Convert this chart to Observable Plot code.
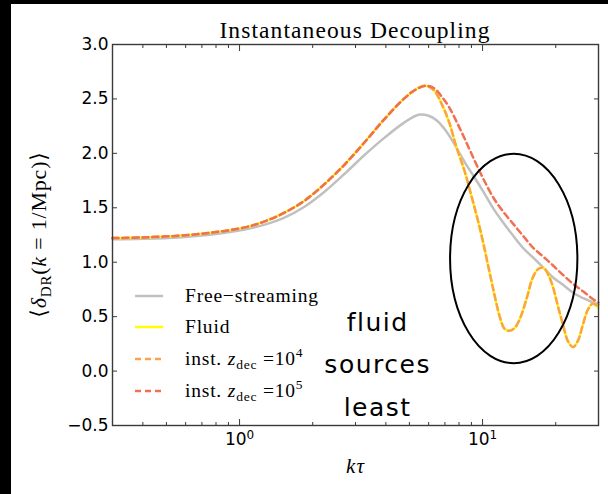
<!DOCTYPE html>
<html><head><meta charset="utf-8">
<script src="https://cdn.jsdelivr.net/npm/d3@7"></script>
<script src="https://cdn.jsdelivr.net/npm/@observablehq/plot@0.6"></script>
<style>
html,body{margin:0;padding:0;background:#000;width:608px;height:494px;overflow:hidden;}
#chart{position:absolute;left:11px;top:4px;width:597px;height:490px;background:#fff;}
</style></head><body><div id="chart"></div>
<script>
// ---- text ----
const titleText = "Instantaneous Decoupling";
const xLabelText = "kτ";
// ---- ticks ----
const yTicks = [-0.5, 0, 0.5, 1.0, 1.5, 2.0, 2.5, 3.0];
const xMajorTicks = [1, 10];
const xMajorExp = ["0", "1"];
const xMinorTicks = [0.4,0.5,0.6,0.7,0.8,0.9,2,3,4,5,6,7,8,9,20];
// ---- series: Free-streaming ----
const freeK = [0.3,0.4,0.56,0.77,1.05,1.27,1.53,1.85,2.23,2.7,3.25,3.93,4.74,5.45,6.0,6.5,7.0,7.5,8.0,8.6,9.2,10,11.1,12.2,13.4,14.7,16.2,17.8,19.5,21.5,23.6,26.5,30];
const freeV = [1.21,1.215,1.228,1.255,1.30,1.345,1.41,1.51,1.645,1.81,1.98,2.14,2.28,2.355,2.345,2.30,2.22,2.12,2.01,1.89,1.79,1.66,1.49,1.36,1.24,1.13,1.04,0.95,0.86,0.79,0.72,0.66,0.61];
// ---- series: Fluid ----
const fluidK = [0.3,0.4,0.56,0.77,1.05,1.27,1.53,1.85,2.23,2.7,3.25,3.93,4.74,5.3,5.8,6.3,6.8,7.3,7.8,8.4,8.9,9.8,10.8,11.3,11.8,12.3,12.9,13.6,14.3,15.2,16.1,17.0,17.8,18.6,19.5,20.4,21.4,22.5,23.6,24.7,25.9,27.2,28.5,30];
const fluidV = [1.222,1.228,1.243,1.272,1.32,1.375,1.455,1.565,1.715,1.895,2.095,2.31,2.50,2.585,2.62,2.58,2.45,2.28,2.06,1.85,1.65,1.29,0.86,0.66,0.49,0.39,0.37,0.40,0.49,0.67,0.86,0.94,0.95,0.89,0.77,0.60,0.43,0.27,0.22,0.28,0.43,0.57,0.62,0.58];
// ---- series: inst. z_dec = 1e4 ----
const inst4K = [0.3,0.4,0.56,0.77,1.05,1.27,1.53,1.85,2.23,2.7,3.25,3.93,4.74,5.3,5.8,6.3,6.8,7.3,7.8,8.4,8.9,9.8,10.8,11.3,11.8,12.3,12.9,13.6,14.3,15.2,16.1,17.0,17.8,18.6,19.5,20.4,21.4,22.5,23.6,24.7,25.9,27.2,28.5,30];
const inst4V = [1.222,1.228,1.243,1.272,1.32,1.375,1.455,1.565,1.715,1.895,2.095,2.31,2.50,2.585,2.62,2.58,2.45,2.28,2.06,1.85,1.65,1.29,0.86,0.66,0.49,0.39,0.37,0.40,0.49,0.67,0.86,0.94,0.95,0.89,0.77,0.60,0.43,0.27,0.22,0.28,0.43,0.57,0.62,0.58];
// ---- series: inst. z_dec = 1e5 ----
const inst5K = [0.3,0.4,0.56,0.77,1.05,1.27,1.53,1.85,2.23,2.7,3.25,3.93,4.74,5.3,5.8,6.3,6.8,7.3,7.9,8.5,9.2,10,11.1,12.2,13.4,14.7,16.2,17.8,19.5,21.5,23.6,26,28.5,30];
const inst5V = [1.222,1.228,1.243,1.272,1.32,1.375,1.455,1.565,1.715,1.895,2.095,2.31,2.50,2.585,2.62,2.60,2.52,2.42,2.27,2.12,1.95,1.78,1.59,1.46,1.35,1.24,1.13,1.05,0.97,0.88,0.80,0.73,0.66,0.63];
// ---- legend / annotation ----
const seriesNames = ["Free−streaming", "Fluid", "inst4", "inst5"];
const seriesColors = ["#c0c0c0", "#ffff00", "#fba14f", "#f26f52"];
const seriesDash = [null, null, "6,4", "6,4"];
const noteText = "fluid\nsources\nleast";
const notePos = {k: 3.7, v: 0.105};
const ellipseSpec = {k: 13.5, v: 1.03, rDecades: 0.262, rV: 0.962};

const zip = (K, V) => K.map((k, i) => ({k, v: V[i]}));
const free = zip(freeK, freeV), fluid = zip(fluidK, fluidV), inst4 = zip(inst4K, inst4V), inst5 = zip(inst5K, inst5V);

const lineOpts = (i) => ({x: "k", y: "v", stroke: seriesColors[i], strokeWidth: 2.5, curve: "catmull-rom", strokeDasharray: seriesDash[i] ?? undefined});

const plot = Plot.plot({
  width: 597, height: 490,
  marginLeft: 101, marginRight: 10, marginTop: 40, marginBottom: 69,
  x: {type: "log", domain: [0.3, 30]},
  y: {domain: [-0.5, 3.0]},
  style: {background: "#fff", fontFamily: "DejaVu Sans", fontSize: "17px", color: "#000", overflow: "visible"},
  marks: [
    Plot.line(free, lineOpts(0)),
    Plot.line(fluid, lineOpts(1)),
    Plot.line(inst4, lineOpts(2)),
    Plot.line(inst5, lineOpts(3)),
    Plot.text([noteText], {x: () => notePos.k, y: () => notePos.v, text: d => d, fontSize: 25, fontFamily: "DejaVu Sans", lineHeight: 1.7, fill: "#000"}),
    Plot.frame({stroke: "#3a3a3a", strokeWidth: 1.4}),
    Plot.axisY({ticks: yTicks, tickSize: -5, tickPadding: 9, tickFormat: d3.format(".1f"), label: null, stroke: "#3a3a3a"}),
    Plot.axisY({anchor: "right", ticks: yTicks, tickSize: -5, tickFormat: () => "", label: null, stroke: "#3a3a3a"}),
    Plot.axisX({ticks: xMajorTicks, tickSize: -6, tickPadding: 13, tickFormat: d => "10", label: null, stroke: "#3a3a3a"}),
    Plot.axisX({anchor: "top", ticks: xMajorTicks, tickSize: -6, tickFormat: () => "", label: null, stroke: "#3a3a3a"}),
    Plot.axisX({ticks: xMinorTicks, tickSize: -3, tickFormat: () => "", label: null, stroke: "#3a3a3a"}),
    Plot.axisX({anchor: "top", ticks: xMinorTicks, tickSize: -3, tickFormat: () => "", label: null, stroke: "#3a3a3a"})
  ]
});
document.getElementById("chart").appendChild(plot);

const svg = d3.select(plot);
const xs = plot.scale("x"), ys = plot.scale("y");
const cx0 = (xs.range[0] + xs.range[1]) / 2;
const serif = "'Liberation Serif', 'DejaVu Serif', serif";

// x tick superscripts
let majorIdx = 0;
svg.selectAll('g[aria-label="x-axis tick label"] text').each(function() {
  const t = d3.select(this);
  if (t.text() === "10") {
    const exp = xMajorExp[majorIdx++];
    t.text("");
    t.append("tspan").text("10");
    t.append("tspan").attr("dy", "-0.45em").attr("font-size", "12px").text(exp);
  }
});

// annotation letter spacing
svg.selectAll('g[aria-label="text"] text').style("letter-spacing", "1.5px");

// title
svg.append("text").attr("x", cx0).attr("y", 34).attr("text-anchor", "middle")
  .attr("font-family", serif).attr("font-size", 23.5).style("letter-spacing", "1.1px").attr("fill", "#000").text(titleText);

// x label
const xl = svg.append("text").attr("x", cx0).attr("y", 469).attr("text-anchor", "middle")
  .attr("font-family", serif).attr("font-size", 21).attr("font-style", "italic").attr("fill", "#000");
xl.append("tspan").text("k");
xl.append("tspan").attr("dx", 1).text("τ");

// y label
const yl = svg.append("text").attr("transform", `translate(35,${(ys.range[0] + ys.range[1]) / 2}) rotate(-90)`)
  .attr("text-anchor", "middle").attr("font-family", serif).attr("font-size", 22).style("letter-spacing", "0.8px").attr("fill", "#000");
yl.append("tspan").text("⟨");
yl.append("tspan").attr("font-style", "italic").text("δ");
yl.append("tspan").attr("font-size", 15).attr("dy", 5).text("DR");
yl.append("tspan").attr("dy", -5).text("(");
yl.append("tspan").attr("font-style", "italic").text("k");
yl.append("tspan").text(" = 1/Mpc)⟩");

// legend
const legRows = [292, 323, 355, 387];
const leg = svg.append("g").attr("font-family", serif).attr("font-size", 19.5).attr("fill", "#000").attr("text-anchor", "start");
seriesNames.forEach((name, i) => {
  const y0 = legRows[i];
  leg.append("line").attr("x1", 124).attr("x2", 152).attr("y1", y0).attr("y2", y0)
    .attr("stroke", seriesColors[i]).attr("stroke-width", 2.5).attr("stroke-dasharray", seriesDash[i]);
  const t = leg.append("text").attr("x", 174).attr("y", y0 + 6).attr("text-anchor", "start").style("letter-spacing", "0.8px");
  if (i < 2) { t.text(name); }
  else {
    t.append("tspan").text("inst. ");
    t.append("tspan").attr("font-style", "italic").text("z");
    t.append("tspan").attr("font-size", 13.5).attr("dy", 4).text("dec");
    t.append("tspan").attr("dy", -4).text(" =10");
    t.append("tspan").attr("font-size", 13.5).attr("dy", -8).text(i === 2 ? "4" : "5");
  }
});

// ellipse annotation
const ecx = xs.apply(ellipseSpec.k), ecy = ys.apply(ellipseSpec.v);
const erx = xs.apply(ellipseSpec.k * Math.pow(10, ellipseSpec.rDecades)) - ecx;
const ery = ecy - ys.apply(ellipseSpec.v + ellipseSpec.rV);
svg.append("ellipse").attr("cx", ecx).attr("cy", ecy).attr("rx", erx).attr("ry", ery)
  .attr("fill", "none").attr("stroke", "#000").attr("stroke-width", 2);
</script></body></html>
